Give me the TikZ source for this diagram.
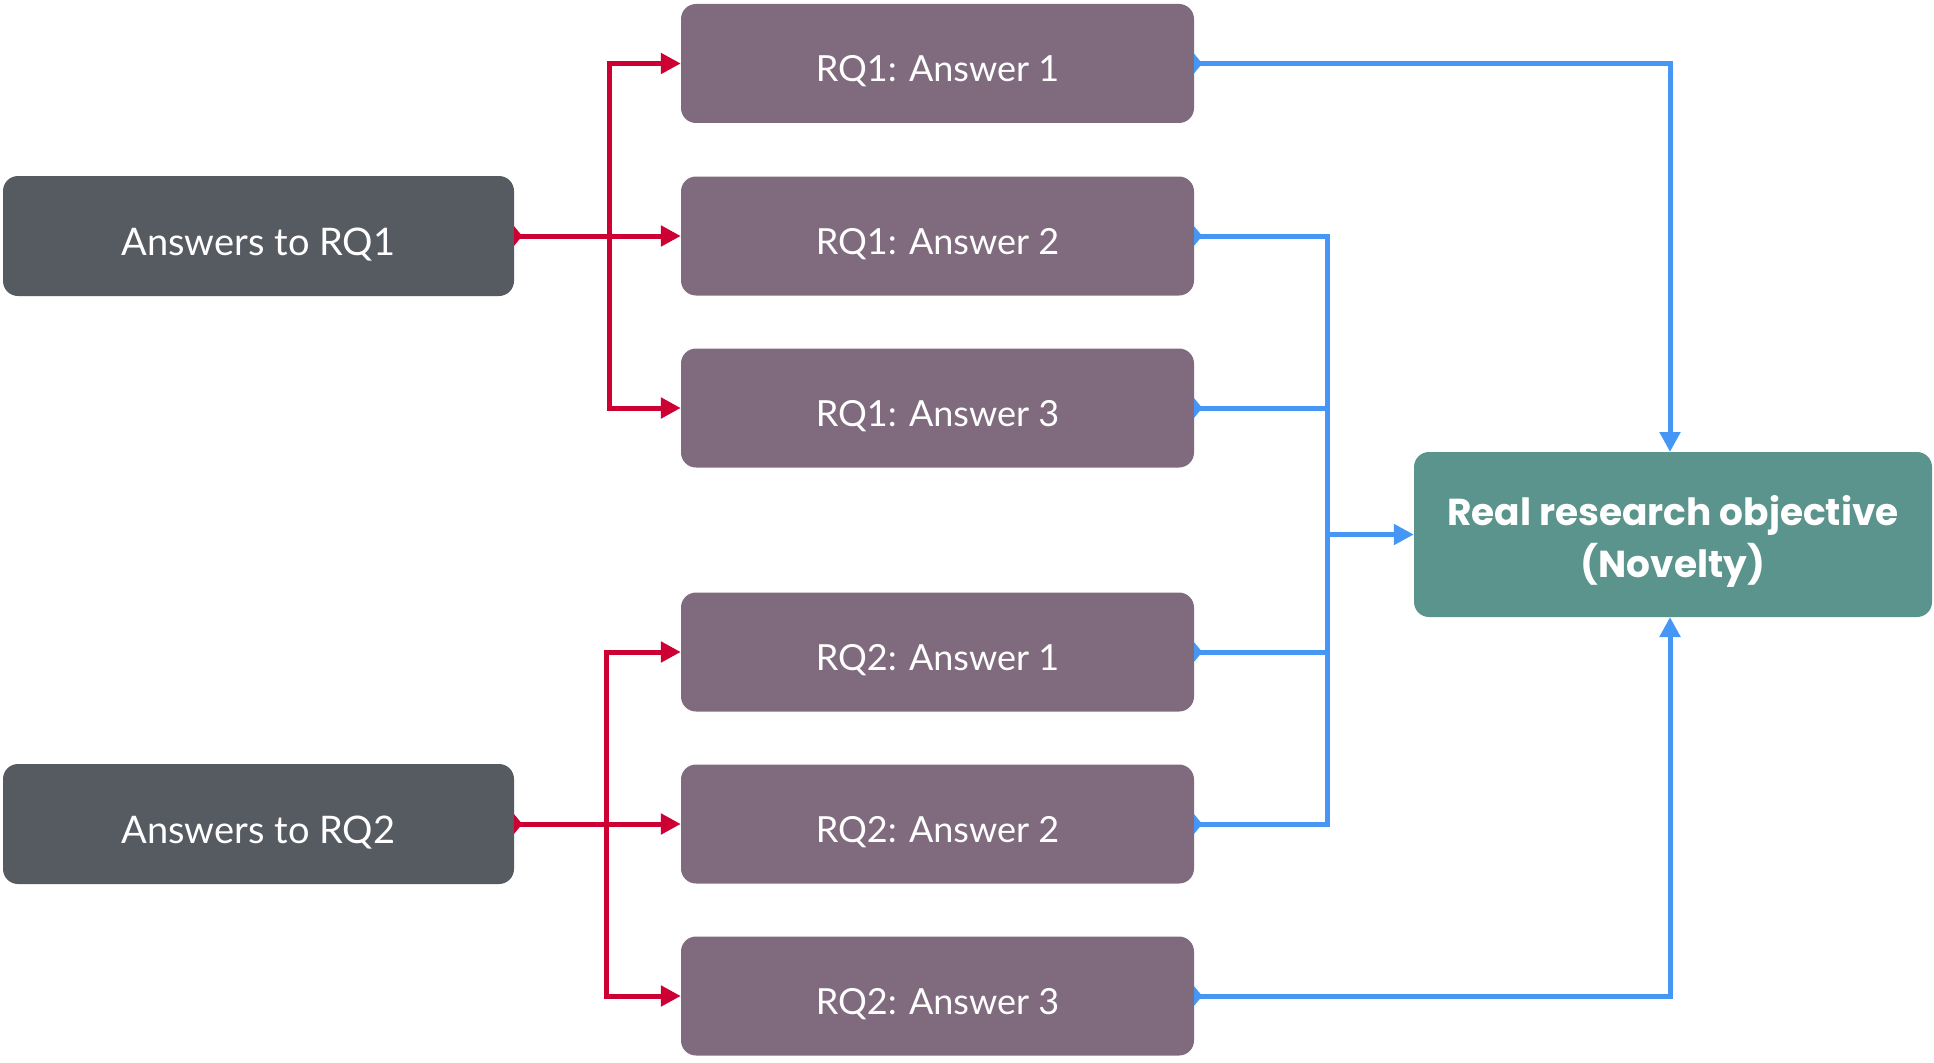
\documentclass[tikz,border=0pt]{standalone}
\usepackage{fontspec}
\setmainfont{Lato}
\newfontfamily\popfont{Poppins}
\usetikzlibrary{arrows.meta}
\definecolor{qgrey}{RGB}{86,90,97}
\definecolor{apurple}{RGB}{128,107,126}
\definecolor{ngreen}{RGB}{91,148,140}
\definecolor{lred}{RGB}{204,0,51}
\definecolor{lblue}{RGB}{69,150,245}
\tikzset{
  box/.style={rounded corners=15pt, inner sep=0pt, text=white, align=center},
  qbox/.style={box, fill=qgrey, minimum width=511pt, minimum height=120pt,
    font=\fontsize{38}{44}\selectfont, text height=38pt, text depth=0pt},
  abox/.style={box, fill=apurple, minimum width=513pt, minimum height=119pt,
    font=\fontsize{36}{44}\selectfont, text height=36pt, text depth=0pt},
  gbox/.style={box, fill=ngreen, minimum width=518pt, minimum height=165pt},
  gtext/.style={inner sep=0pt, text=white, align=center,
    font=\popfont\bfseries\fontsize{37.5}{52}\selectfont},
  conn/.style={line width=5pt, line join=miter},
  redc/.style={conn, draw=lred},
  bluec/.style={conn, draw=lblue},
  tipend/.style={-{Triangle[length=20pt,width=20pt]}},
  startmark/.style={{Triangle[reversed,length=8pt,width=19pt]}-},
  bothmark/.style={{Triangle[reversed,length=8pt,width=19pt]}-{Triangle[length=20pt,width=20pt]}},
}
\begin{document}
\begin{tikzpicture}[x=1pt,y=-1pt]
\useasboundingbox (0,0) rectangle (1934,1062);
% left boxes
\node[qbox] (q1) at (258.5,236) {Answers to RQ1};
\node[qbox] (q2) at (258.5,824) {Answers to RQ2};
% middle boxes
\node[abox] (a1) at (937.5,63.5) {RQ1: Answer 1};
\node[abox] (a2) at (937.5,236) {RQ1: Answer 2};
\node[abox] (a3) at (937.5,408) {RQ1: Answer 3};
\node[abox] (b1) at (937.5,652) {RQ2: Answer 1};
\node[abox] (b2) at (937.5,824) {RQ2: Answer 2};
\node[abox] (b3) at (937.5,996) {RQ2: Answer 3};
% goal
\node[gbox] (g) at (1673,534.5) {};
\node[gtext] (gl) at (1673,541) {Real research objective\\(Novelty)};
% red connectors
\coordinate (r1) at (609,236);
\coordinate (r2) at (606,824);
\draw[redc, bothmark] (q1.east) -- (a2.west);
\draw[redc, tipend] (r1) |- (a1.west);
\draw[redc, tipend] (r1) |- (a3.west);
\draw[redc, bothmark] (q2.east) -- (b2.west);
\draw[redc, tipend] (r2) |- (b1.west);
\draw[redc, tipend] (r2) |- (b3.west);
% blue connectors
\coordinate (bt) at (1327,534.5);
\coordinate (gn) at (1670,452);
\coordinate (gs) at (1670,617);
\draw[bluec, bothmark] (a1.east) -| (gn);
\draw[bluec, bothmark] (b3.east) -| (gs);
\draw[bluec, startmark] (a2.east) -| (bt);
\draw[bluec, startmark] (b2.east) -| (bt);
\draw[bluec, startmark] (a3.east) -- (a3.east -| bt);
\draw[bluec, startmark] (b1.east) -- (b1.east -| bt);
\draw[bluec, tipend] (bt) -- (g.west);
\end{tikzpicture}
\end{document}
